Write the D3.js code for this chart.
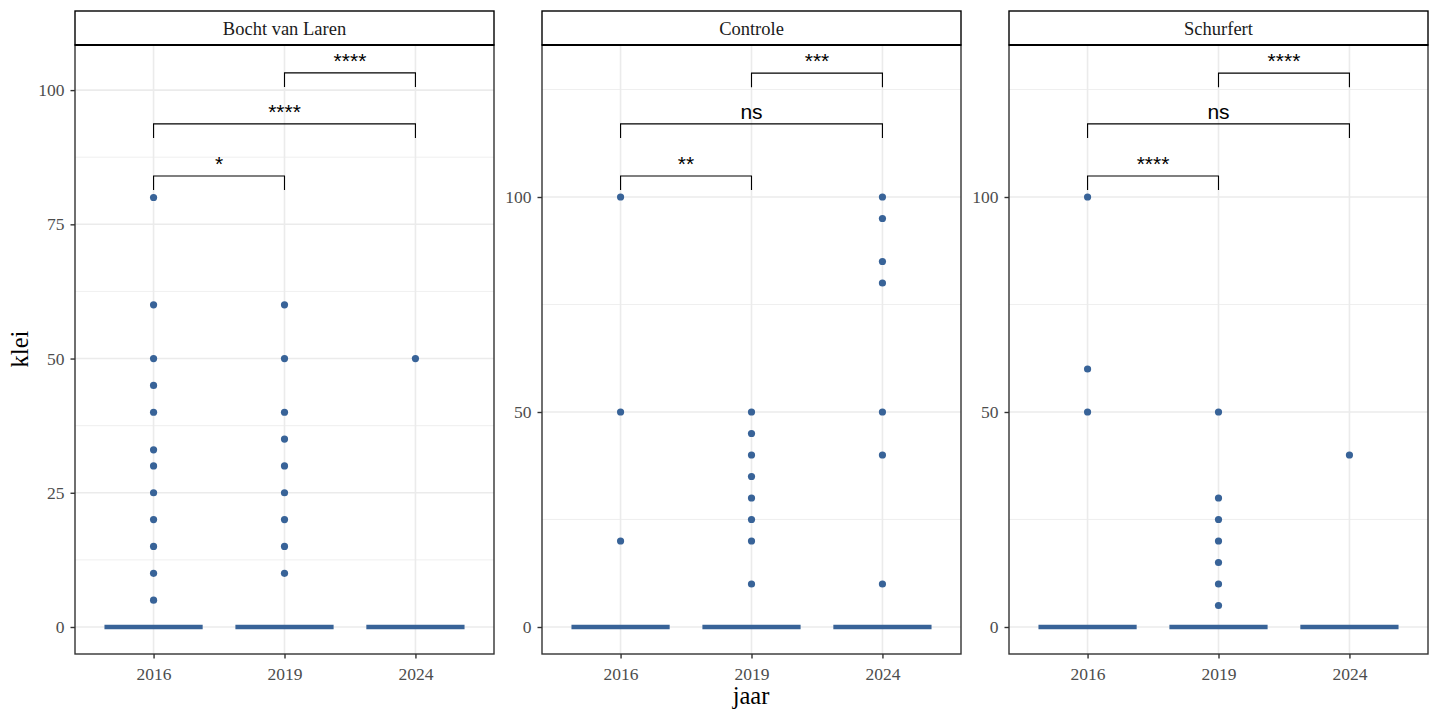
<!DOCTYPE html>
<html><head><meta charset="utf-8">
<script src="https://cdn.jsdelivr.net/npm/d3@7"></script>
<style>
html,body{margin:0;padding:0;background:#fff;}
svg{display:block;}
</style></head>
<body><svg id="c" width="1440" height="720"></svg>
<script>
// ---- data ----
const panelNames = ["Bocht van Laren", "Controle", "Schurfert"];
const years = ["2016", "2019", "2024"];

// boxplot outliers (the boxes themselves collapse onto 0)
const bocht2016 = [5, 10, 15, 20, 25, 30, 33, 40, 45, 50, 60, 80];
const bocht2019 = [10, 15, 20, 25, 30, 35, 40, 50, 60];
const bocht2024 = [50];
const controle2016 = [20, 50, 100];
const controle2019 = [10, 20, 25, 30, 35, 40, 45, 50];
const controle2024 = [10, 40, 50, 80, 85, 95, 100];
const schurfert2016 = [50, 60, 100];
const schurfert2019 = [5, 10, 15, 20, 25, 30, 50];
const schurfert2024 = [40];

const medians = [0, 0, 0];

const bochtTicks = [0, 25, 50, 75, 100];
const bochtMinor = [12.5, 37.5, 62.5, 87.5];
const otherTicks = [0, 50, 100];
const otherMinor = [25, 75, 125];

const bochtDomain = [-5.03, 108.4];
const otherDomain = [-6.28, 135.35];

const comparisons = [["2016", "2019"], ["2016", "2024"], ["2019", "2024"]];
const bochtLabels = ["*", "****", "****"];
const controleLabels = ["**", "ns", "***"];
const schurfertLabels = ["****", "ns", "****"];
const bochtBracketY = [84.0, 93.7, 103.2];
const otherBracketY = [104.9, 117.0, 128.8];

const panels = [
  {name: panelNames[0], values: [bocht2016, bocht2019, bocht2024], ticks: bochtTicks, minor: bochtMinor, domain: bochtDomain, labels: bochtLabels, by: bochtBracketY},
  {name: panelNames[1], values: [controle2016, controle2019, controle2024], ticks: otherTicks, minor: otherMinor, domain: otherDomain, labels: controleLabels, by: otherBracketY},
  {name: panelNames[2], values: [schurfert2016, schurfert2019, schurfert2024], ticks: otherTicks, minor: otherMinor, domain: otherDomain, labels: schurfertLabels, by: otherBracketY}
];

// ---- layout ----
const svg = d3.select("#c");
const panelX = [75, 542, 1009];
const panelW = 419;
const plotTop = 45, plotBottom = 654;
const stripTop = 11;
const col = "#386398";
const serif = "'Liberation Serif','Times New Roman',serif";
const sans = "'Liberation Sans',Arial,sans-serif";

panels.forEach((p, i) => {
  const x0 = panelX[i];
  const g = svg.append("g");
  const x = d3.scalePoint().domain(years).range([x0, x0 + panelW]).padding(0.6);
  const y = d3.scaleLinear().domain(p.domain).range([plotBottom, plotTop]);

  // grid
  g.selectAll(".gm").data(p.minor).join("line")
    .attr("x1", x0).attr("x2", x0 + panelW)
    .attr("y1", d => y(d)).attr("y2", d => y(d))
    .attr("stroke", "#EBEBEB").attr("stroke-width", 0.8);
  g.selectAll(".gy").data(p.ticks).join("line")
    .attr("x1", x0).attr("x2", x0 + panelW)
    .attr("y1", d => y(d)).attr("y2", d => y(d))
    .attr("stroke", "#EBEBEB").attr("stroke-width", 1.6);
  g.selectAll(".gx").data(years).join("line")
    .attr("x1", d => x(d)).attr("x2", d => x(d))
    .attr("y1", plotTop).attr("y2", plotBottom)
    .attr("stroke", "#EBEBEB").attr("stroke-width", 1.6);

  // points (outliers)
  years.forEach((yr, j) => {
    g.selectAll(null).data(p.values[j]).join("circle")
      .attr("cx", x(yr)).attr("cy", d => y(d)).attr("r", 3.6)
      .attr("fill", col);
  });

  // boxplot (collapsed) median line
  const bw = x.step() * 0.75;
  g.selectAll(".med").data(years).join("line")
    .attr("x1", d => x(d) - bw / 2).attr("x2", d => x(d) + bw / 2)
    .attr("y1", (d, j) => y(medians[j])).attr("y2", (d, j) => y(medians[j]))
    .attr("stroke", col).attr("stroke-width", 4.5);

  // brackets
  comparisons.forEach((c, k) => {
    const xa = x(c[0]), xb = x(c[1]), yy = y(p.by[k]);
    g.append("path")
      .attr("d", `M${xa},${yy + 14}V${yy}H${xb}V${yy + 14}`)
      .attr("fill", "none").attr("stroke", "#000").attr("stroke-width", 1.1);
    g.append("text")
      .attr("x", (xa + xb) / 2).attr("y", yy - 5)
      .attr("text-anchor", "middle")
      .attr("font-family", sans).attr("font-size", 21)
      .attr("fill", "#000").text(p.labels[k]);
  });

  // panel border
  g.append("rect").attr("x", x0).attr("y", plotTop).attr("width", panelW).attr("height", plotBottom - plotTop)
    .attr("fill", "none").attr("stroke", "#333333").attr("stroke-width", 1.4);

  // strip
  g.append("rect").attr("x", x0).attr("y", stripTop).attr("width", panelW).attr("height", plotTop - stripTop)
    .attr("fill", "#fff").attr("stroke", "#000").attr("stroke-width", 1.4);
  g.append("line").attr("x1", x0).attr("x2", x0 + panelW).attr("y1", plotTop).attr("y2", plotTop)
    .attr("stroke", "#000").attr("stroke-width", 2);
  g.append("text").attr("x", x0 + panelW / 2).attr("y", 35)
    .attr("text-anchor", "middle").attr("font-family", serif).attr("font-size", 18.5)
    .attr("fill", "#1A1A1A").text(p.name);

  // axes
  const ya = g.append("g").attr("transform", `translate(${x0},0)`)
    .call(d3.axisLeft(y).tickValues(p.ticks).tickSize(4.5).tickPadding(6));
  const xa = g.append("g").attr("transform", `translate(0,${plotBottom})`)
    .call(d3.axisBottom(x).tickSize(4.5).tickPadding(9));
  [ya, xa].forEach(a => {
    a.select(".domain").remove();
    a.selectAll(".tick line").attr("stroke", "#333333").attr("stroke-width", 1.4);
    a.selectAll(".tick text").attr("font-family", serif).attr("font-size", 17.5).attr("fill", "#4D4D4D");
  });
});

// axis titles
svg.append("text").attr("x", 751).attr("y", 704).attr("text-anchor", "middle")
  .attr("font-family", serif).attr("font-size", 24.5).attr("fill", "#000").text("jaar");
svg.append("text").attr("transform", "translate(28,349) rotate(-90)").attr("text-anchor", "middle")
  .attr("font-family", serif).attr("font-size", 24.5).attr("fill", "#000").text("klei");
</script></body></html>
